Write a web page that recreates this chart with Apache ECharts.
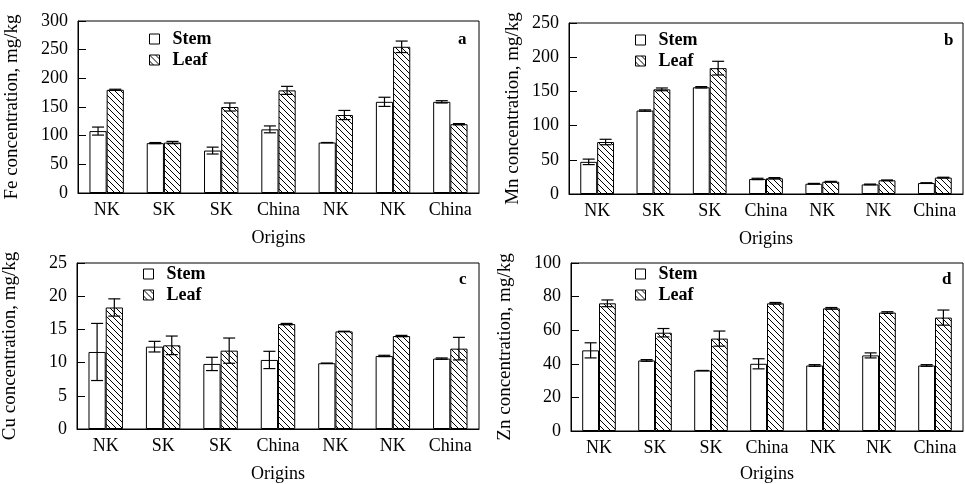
<!DOCTYPE html>
<html><head><meta charset="utf-8">
<script src="https://cdn.jsdelivr.net/npm/echarts@6/dist/echarts.min.js"></script>
<style>html,body{margin:0;padding:0;background:#fff}#c{width:965px;height:484px}</style>
</head><body><div id="c"></div>
<script>
const categories = ['NK','SK','SK','China','NK','NK','China'];
const feStem = [108, 87, 74, 111, 88, 159, 159];
const feStemErr = [7, 1, 6, 6, 0, 8, 2];
const feLeaf = [180, 88, 150, 179, 136, 255, 120];
const feLeafErr = [1, 2, 7, 7, 8, 10, 1];
const mnStem = [47, 122, 156, 22, 15, 14, 16];
const mnStemErr = [4, 1, 1, 1, 0.5, 0.5, 0.5];
const mnLeaf = [76, 153, 184, 23, 18, 20, 24];
const mnLeafErr = [4, 2, 10, 1, 0.5, 0.5, 0.5];
const cuStem = [11.6, 12.4, 9.8, 10.4, 9.9, 11.0, 10.6];
const cuStemErr = [4.3, 0.8, 1.0, 1.3, 0, 0.1, 0.1];
const cuLeaf = [18.3, 12.6, 11.8, 15.8, 14.7, 14.0, 12.1];
const cuLeafErr = [1.3, 1.4, 1.9, 0.1, 0, 0.1, 1.7];
const znStem = [48, 42, 36, 40, 39, 45, 39];
const znStemErr = [4.5, 0.5, 0, 3, 0.5, 1.5, 0.5];
const znLeaf = [76, 58.5, 55, 76, 73, 70.5, 67.5];
const znLeafErr = [2, 2.5, 4.5, 0.5, 0.5, 0.5, 4.5];

const panels = [
  {name:'Fe concentration, mg/kg', letter:'a', max:300, interval:50, stem:feStem, stemErr:feStemErr, leaf:feLeaf, leafErr:feLeafErr,
   grid:{left:78, top:21, width:401, height:172}, nameGap:56, xNameGap:36, legend:{left:144, top:25}, letterPos:{left:453, top:26}},
  {name:'Mn concentration, mg/kg', letter:'b', max:250, interval:50, stem:mnStem, stemErr:mnStemErr, leaf:mnLeaf, leafErr:mnLeafErr,
   grid:{left:569, top:23, width:394, height:171}, nameGap:46, xNameGap:36, legend:{left:630, top:26}, letterPos:{left:939, top:27}},
  {name:'Cu concentration, mg/kg', letter:'c', max:25, interval:5, stem:cuStem, stemErr:cuStemErr, leaf:cuLeaf, leafErr:cuLeafErr,
   grid:{left:77, top:263, width:402, height:166}, nameGap:57, xNameGap:36, legend:{left:138, top:260}, letterPos:{left:454, top:266}},
  {name:'Zn concentration, mg/kg', letter:'d', max:100, interval:20, stem:znStem, stemErr:znStemErr, leaf:znLeaf, leafErr:znLeafErr,
   grid:{left:571, top:263, width:392, height:170}, nameGap:56, xNameGap:34, legend:{left:630, top:260}, letterPos:{left:937, top:266}}
];

function hatch(){
  const c = document.createElement('canvas');
  c.width = 6; c.height = 6;
  const g = c.getContext('2d');
  g.fillStyle = '#fff'; g.fillRect(0,0,6,6);
  g.strokeStyle = '#000'; g.lineWidth = 1;
  g.beginPath();
  g.moveTo(-1,-1); g.lineTo(7,7);
  g.moveTo(-1,5); g.lineTo(1,7);
  g.moveTo(5,-1); g.lineTo(7,1);
  g.stroke();
  return c;
}
const hatchPattern = {image: hatch(), repeat: 'repeat'};
const font = '"Liberation Serif", "Times New Roman", serif';

function errRender(offFrac){
  return function(params, api){
    const i = api.value(0), v = api.value(1), e = api.value(2);
    const band = api.size([1,0])[0];
    const x = api.coord([i, v])[0] + offFrac*band;
    const yt = api.coord([i, v+e])[1];
    const yb = api.coord([i, v-e])[1];
    const cap = 6;
    const st = {stroke:'#000', lineWidth:1.2};
    return {type:'group', children:[
      {type:'line', shape:{x1:x, y1:yt, x2:x, y2:yb}, style:st},
      {type:'line', shape:{x1:x-cap, y1:yt, x2:x+cap, y2:yt}, style:st},
      {type:'line', shape:{x1:x-cap, y1:yb, x2:x+cap, y2:yb}, style:st}
    ]};
  };
}

const option = {animation:false, backgroundColor:'#fff', grid:[], xAxis:[], yAxis:[], series:[], legend:[], title:[]};
panels.forEach((p, k) => {
  option.grid.push(Object.assign({show:true, borderColor:'#000', borderWidth:1, backgroundColor:'transparent'}, p.grid));
  option.xAxis.push({type:'category', gridIndex:k, data:categories,
    name:'Origins', nameLocation:'middle', nameGap:p.xNameGap,
    nameTextStyle:{fontFamily:font, fontSize:18, color:'#000'},
    axisLine:{lineStyle:{color:'#000', width:1}},
    axisTick:{inside:true, length:8, lineStyle:{color:'#000'}},
    axisLabel:{fontFamily:font, fontSize:18, color:'#000', margin:8, interval:0}});
  option.yAxis.push({type:'value', gridIndex:k, min:0, max:p.max, interval:p.interval,
    name:p.name, nameLocation:'middle', nameGap:p.nameGap,
    nameTextStyle:{fontFamily:font, fontSize:19, color:'#000'},
    axisLine:{show:true, lineStyle:{color:'#000', width:1}},
    axisTick:{show:true, inside:true, length:8, lineStyle:{color:'#000'}},
    splitLine:{show:false},
    axisLabel:{fontFamily:font, fontSize:18, color:'#000', margin:10}});
  option.series.push({type:'bar', name:'Stem', xAxisIndex:k, yAxisIndex:k, data:p.stem,
    barWidth:'30%', barGap:'0%', itemStyle:{color:'#fff', borderColor:'#000', borderWidth:1}});
  option.series.push({type:'bar', name:'Leaf', xAxisIndex:k, yAxisIndex:k, data:p.leaf,
    barWidth:'30%', barGap:'0%', itemStyle:{color:hatchPattern, borderColor:'#000', borderWidth:1}});
  option.series.push({type:'custom', name:'errStem', xAxisIndex:k, yAxisIndex:k, z:5,
    data:p.stem.map((v,i)=>[i, v, p.stemErr[i]]), encode:{x:0, y:1}, renderItem:errRender(-0.15)});
  option.series.push({type:'custom', name:'errLeaf', xAxisIndex:k, yAxisIndex:k, z:5,
    data:p.leaf.map((v,i)=>[i, v, p.leafErr[i]]), encode:{x:0, y:1}, renderItem:errRender(0.15)});
  option.legend.push({orient:'vertical', left:p.legend.left, top:p.legend.top, data:['Stem','Leaf'],
    icon:'rect', itemWidth:10, itemHeight:10, itemGap:3, selectedMode:false,
    itemStyle:{borderColor:'#000', borderWidth:1},
    textStyle:{fontFamily:font, fontSize:18, color:'#000', fontWeight:'bold', padding:[0,0,0,8]}});
  option.title.push({text:p.letter, left:p.letterPos.left, top:p.letterPos.top,
    textStyle:{fontFamily:font, fontSize:17, fontWeight:'bold', color:'#000'}});
});
const chart = echarts.init(document.getElementById('c'), null, {renderer:'canvas'});
chart.setOption(option);
</script>
</body></html>
